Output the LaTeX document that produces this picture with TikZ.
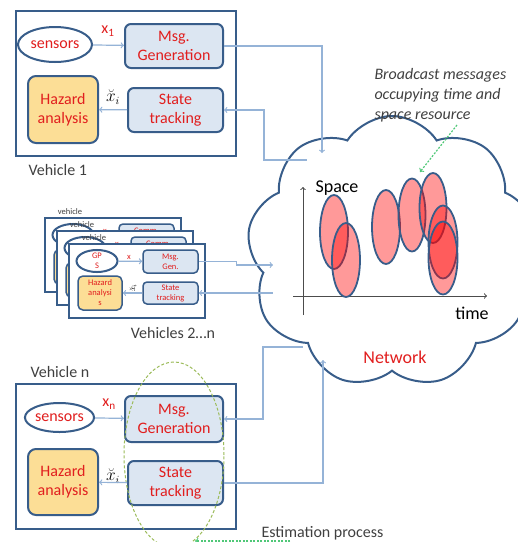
\documentclass[tikz,border=0pt]{standalone}
\usepackage{fontspec}
\setmainfont{Carlito}
\usetikzlibrary{shapes.geometric,shapes.symbols,positioning}

\definecolor{vblue}{RGB}{56,93,138}
\definecolor{boxfill}{RGB}{220,230,242}
\definecolor{hazfill}{RGB}{252,222,150}
\definecolor{txtred}{RGB}{225,30,30}
\definecolor{linkblue}{RGB}{149,179,215}
\definecolor{estgreen}{RGB}{155,187,89}
\definecolor{notegreen}{RGB}{80,200,120}
\definecolor{txtgray}{RGB}{64,64,64}

\tikzset{block/.style = {draw=vblue, line width=2pt, rounded corners=6pt, fill=boxfill, text=txtred, align=center, inner sep=0pt}}

\begin{document}
\begin{tikzpicture}[x=1pt, y=-1pt]
    % Define node styles
    \tikzstyle{vehicle} = [draw=vblue, line width=2.5pt, fill=white, inner sep=0pt, minimum width=220pt, minimum height=145pt]
    \tikzstyle{minivehicle} = [draw=vblue, line width=2pt, fill=white, inner sep=0pt, minimum width=136pt, minimum height=74pt]
    \tikzstyle{sensor} = [ellipse, draw=vblue, line width=2pt, fill=white, text=txtred, align=center, inner sep=0pt]
    \tikzstyle{hazard} = [block, fill=hazfill, rounded corners=8pt]
    \tikzstyle{msg} = [ellipse, draw=vblue, line width=1.8pt, fill=red, fill opacity=0.4, inner sep=0pt, minimum width=28pt, minimum height=74pt]
    \tikzstyle{link} = [draw=linkblue, line width=1.2pt]
    \tikzstyle{note} = [draw=notegreen, line width=1.2pt, dash pattern=on 2pt off 1.5pt]
    \tikzstyle{big} = [font=\fontsize{16}{19}\selectfont]
    \tikzstyle{tiny} = [font=\fontsize{8.5}{10}\selectfont]

    \useasboundingbox (0,0) rectangle (518,542);

    % Network cloud
    \node[cloud, draw=vblue, line width=2pt, cloud puffs=9, cloud puff arc=115, cloud ignores aspect, minimum width=290pt, minimum height=272pt, inner sep=0pt] (net) at (392,252) {};

    % Vehicle 1
    \node[vehicle] (veh1) at (126,83.5) {};
    \node[sensor, big, minimum width=74pt, minimum height=35pt] (sen1) at (55,44.5) {sensors};
    \node[block, big, minimum width=98pt, minimum height=44pt] (msg1) at (174,46) {Msg.\\Generation};
    \node[hazard, big, minimum width=70pt, minimum height=67pt] (haz1) at (63,109.5) {Hazard\\analysis};
    \node[block, big, minimum width=95pt, minimum height=44pt] (st1) at (175.5,110) {State\\tracking};
    \node[text=txtred, font=\fontsize{16}{18}\selectfont] (x1) at (108,31) {x\textsubscript{1}};
    \node[font=\fontsize{16}{18}\selectfont] (xb1) at (113,97) {$\breve{x}_i$};
    \node[anchor=west, text=txtgray, big] (lab1) at (25,170) {Vehicle 1};

    % Vehicles 2...n (stacked)
    \node[minivehicle] (bk1) at (113,255) {};
    \node[tiny, text=txtgray] (bkl1) at (70,212) {vehicle};
    \node[sensor, minimum width=41pt, minimum height=22pt] (bgps1) at (73,235) {};
    \node[block, tiny, line width=1.5pt, rounded corners=4pt, minimum width=55pt, minimum height=23pt] (bmg1) at (146.5,235.5) {Comm.\\\phantom{Gen.}};
    \node[hazard, line width=1.5pt, rounded corners=5pt, minimum width=44pt, minimum height=34pt] (bhz1) at (76,267) {};
    \node[text=txtred, tiny] (bx1) at (105,231) {x};

    \node[minivehicle] (bk2) at (125,268) {};
    \node[tiny, text=txtgray] (bkl2) at (82,225) {vehicle};
    \node[sensor, minimum width=41pt, minimum height=22pt] (bgps2) at (85,248) {};
    \node[block, tiny, line width=1.5pt, rounded corners=4pt, minimum width=55pt, minimum height=23pt] (bmg2) at (158.5,248.5) {Comm.\\\phantom{Gen.}};
    \node[hazard, line width=1.5pt, rounded corners=5pt, minimum width=44pt, minimum height=34pt] (bhz2) at (88,280) {};
    \node[text=txtred, tiny] (bx2) at (117,244) {x};

    \node[minivehicle] (fv) at (137,281) {};
    \node[tiny, text=txtgray] (fvl) at (94,238) {vehicle};
    \node[sensor, tiny, minimum width=41pt, minimum height=22pt] (fgps) at (97,261) {GP\\S};
    \node[block, tiny, line width=1.5pt, rounded corners=4pt, minimum width=55pt, minimum height=23pt] (fmg) at (170.5,261.5) {Msg.\\Gen.};
    \node[hazard, tiny, line width=1.5pt, rounded corners=5pt, minimum width=44pt, minimum height=34pt] (fhz) at (100,293) {Hazard\\analysi\\s};
    \node[block, tiny, line width=1.5pt, rounded corners=4pt, minimum width=55pt, minimum height=22pt] (fsk) at (170.5,293) {State\\tracking};
    \node[text=txtred, tiny] (fx) at (129,257) {x};
    \node[tiny, rotate=90] (fxb) at (133,288) {$\breve{x}_i$};
    \node[text=txtgray, font=\fontsize{16}{18}\selectfont] (lab2) at (173,333) {Vehicles 2…n};

    % Vehicle n
    \node[vehicle] (vehn) at (126,456.5) {};
    \node[sensor, big, minimum width=65pt, minimum height=29pt] (senn) at (59.5,417.5) {sensors};
    \node[block, big, minimum width=98pt, minimum height=46pt] (msgn) at (174,419) {Msg.\\Generation};
    \node[hazard, big, minimum width=70pt, minimum height=66pt] (hazn) at (63,482) {Hazard\\analysis};
    \node[block, big, minimum width=95pt, minimum height=44pt] (stn) at (175.5,483) {State\\tracking};
    \node[text=txtred, font=\fontsize{16}{18}\selectfont] (xn) at (109,404) {x\textsubscript{n}};
    \node[font=\fontsize{16}{18}\selectfont] (xbn) at (113,476) {$\breve{x}_i$};
    \node[anchor=west, text=txtgray, big] (labn) at (27,372) {Vehicle n};

    % Estimation process
    \node[ellipse, draw=estgreen, line width=1pt, dash pattern=on 3pt off 2pt, minimum width=100pt, minimum height=186pt] (estell) at (174,455) {};
    \node[anchor=west, text=txtgray, font=\fontsize{16}{18}\selectfont] (est) at (258,533) {Estimation process};
    \coordinate (es1) at (290,541);
    \coordinate (es2) at (195,541);
    \draw[note,->] (es1) -- (es2);

    % Links inside the vehicles
    \draw[link,->] (sen1) -- (msg1);
    \draw[link,->] (st1) -- (haz1);
    \draw[link,->] (fgps) -- (fmg);
    \draw[link,->] (fsk) -- (fhz);
    \draw[link,->] (senn) -- (msgn);
    \draw[link,->] (stn) -- (hazn);

    % Links to and from the network
    \coordinate (c1) at (322,153);
    \coordinate (k2) at (264,160);
    \coordinate (c2) at (307,160);
    \coordinate (c3) at (273,265);
    \coordinate (c4) at (273,293);
    \coordinate (k5) at (263,347);
    \coordinate (c5) at (303,347);
    \coordinate (c6) at (323,360);
    \draw[link,->] (msg1.east) -| (c1);
    \draw[link,<-] (st1.east) -| (k2) -- (c2);
    \draw[link,->] (fmg.east) -- ++(38,0) |- (c3);
    \draw[link,<-] (fsk.east) -- (c4);
    \draw[link,<-] (msgn.east) -| (k5) -- (c5);
    \draw[link,->] (stn.east) -| (c6);

    % Space-time axes
    \coordinate (ys) at (303,315);
    \coordinate (ye) at (303,187);
    \coordinate (xs) at (293,296);
    \coordinate (xe) at (487,296);
    \draw[gray!60!black, line width=1pt, ->] (ys) -- (ye);
    \draw[gray!60!black, line width=1pt, ->] (xs) -- (xe);
    \node[font=\fontsize{18}{20}\selectfont] (space) at (337,188) {Space};
    \node[font=\fontsize{18}{20}\selectfont] (time) at (472,313) {time};
    \node[text=txtred, font=\fontsize{18}{20}\selectfont] (nw) at (395,357) {Network};

    % Broadcast messages
    \node[msg] (m1) at (334,232) {};
    \node[msg] (m2) at (346,260) {};
    \node[msg] (m3) at (386,227) {};
    \node[msg, minimum width=27pt, minimum height=73pt] (m4) at (412,215) {};
    \node[msg, minimum width=27pt, minimum height=70pt] (m5) at (433,208) {};
    \node[msg, minimum width=29pt, minimum height=73pt] (m6) at (443,242) {};
    \node[msg, minimum width=29pt, minimum height=73pt] (m7) at (443,258) {};

    % Note on the messages
    \node[anchor=north west, align=left, text=txtgray, font=\itshape\fontsize{16}{20}\selectfont] (bc) at (371,65) {Broadcast messages\\occupying time and\\space resource};
    \coordinate (bcs) at (457,125);
    \coordinate (bce) at (420,172);
    \draw[note,->] (bcs) -- (bce);

\end{tikzpicture}
\end{document}
